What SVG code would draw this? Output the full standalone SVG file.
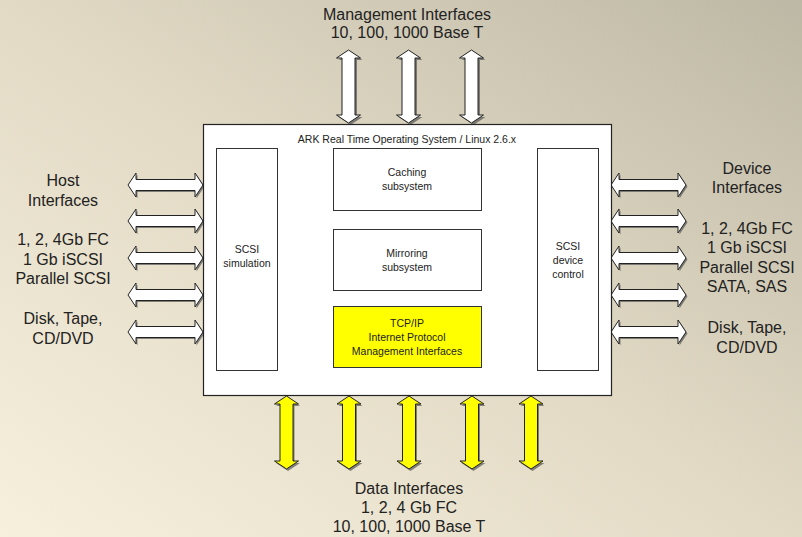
<svg xmlns="http://www.w3.org/2000/svg" xmlns:xlink="http://www.w3.org/1999/xlink" width="802" height="537" viewBox="0 0 802 537">
<defs>
<linearGradient id="bg" x1="0" y1="1" x2="1" y2="0">
<stop offset="0" stop-color="#f6f0dd"/>
<stop offset="0.5" stop-color="#e2dac5"/>
<stop offset="1" stop-color="#bdb8a5"/>
</linearGradient>
<path id="harrow" d="M0,0 L8,-12 L8,-5.5 L67,-5.5 L67,-12 L75,0 L67,12 L67,5.5 L8,5.5 L8,12 Z"/>
<path id="varrow" d="M0,0 L12,8 L6.5,8 L6.5,65 L12,65 L0,73 L-12,65 L-6.5,65 L-6.5,8 L-12,8 Z"/>
</defs>
<style>
.t{font-family:"Liberation Sans",Arial,sans-serif;fill:#222;text-anchor:middle}
.big{font-size:16px}
.sm{font-size:10.5px}
.box{fill:#fff;stroke:#333;stroke-width:1}
.shadow{fill:#555;opacity:0.7}
.wa{fill:#fff;stroke:#222;stroke-width:1}
.ya{fill:#ffff00;stroke:#222;stroke-width:1}
</style>
<rect width="802" height="537" fill="url(#bg)"/>

<g id="mgmt-label">
<text class="t big" x="407" y="20">Management Interfaces</text>
<text class="t big" x="407" y="38">10, 100, 1000 Base T</text>
</g>
<g id="host-label">
<text class="t big" x="63" y="186">Host</text>
<text class="t big" x="63" y="206">Interfaces</text>
<text class="t big" x="63" y="245">1, 2, 4Gb FC</text>
<text class="t big" x="63" y="265">1 Gb iSCSI</text>
<text class="t big" x="63" y="284">Parallel SCSI</text>
<text class="t big" x="63" y="324">Disk, Tape,</text>
<text class="t big" x="63" y="344">CD/DVD</text>
</g>
<g id="device-label">
<text class="t big" x="747" y="174">Device</text>
<text class="t big" x="747" y="193">Interfaces</text>
<text class="t big" x="747" y="234">1, 2, 4Gb FC</text>
<text class="t big" x="747" y="253">1 Gb iSCSI</text>
<text class="t big" x="747" y="273">Parallel SCSI</text>
<text class="t big" x="747" y="292">SATA, SAS</text>
<text class="t big" x="747" y="333">Disk, Tape,</text>
<text class="t big" x="747" y="353">CD/DVD</text>
</g>
<g id="data-label">
<text class="t big" x="409" y="494">Data Interfaces</text>
<text class="t big" x="409" y="513">1, 2, 4 Gb FC</text>
<text class="t big" x="409" y="532">10, 100, 1000 Base T</text>
</g>

<g id="connectors">
<g id="top-arrows">
<use href="#varrow" class="shadow" transform="translate(350.5,52)"/>
<use href="#varrow" class="wa" transform="translate(348.5,50)"/>
<use href="#varrow" class="shadow" transform="translate(410.5,52)"/>
<use href="#varrow" class="wa" transform="translate(408.5,50)"/>
<use href="#varrow" class="shadow" transform="translate(473.5,52)"/>
<use href="#varrow" class="wa" transform="translate(471.5,50)"/>
</g>
<g id="left-arrows">
<use href="#harrow" class="shadow" transform="translate(129.5,186.5)"/>
<use href="#harrow" class="wa" transform="translate(128,185)"/>
<use href="#harrow" class="shadow" transform="translate(129.5,222.5)"/>
<use href="#harrow" class="wa" transform="translate(128,221)"/>
<use href="#harrow" class="shadow" transform="translate(129.5,259.5)"/>
<use href="#harrow" class="wa" transform="translate(128,258)"/>
<use href="#harrow" class="shadow" transform="translate(129.5,296.5)"/>
<use href="#harrow" class="wa" transform="translate(128,295)"/>
<use href="#harrow" class="shadow" transform="translate(129.5,333.5)"/>
<use href="#harrow" class="wa" transform="translate(128,332)"/>
</g>
<g id="right-arrows">
<use href="#harrow" class="shadow" transform="translate(612.5,186.5)"/>
<use href="#harrow" class="wa" transform="translate(611,185)"/>
<use href="#harrow" class="shadow" transform="translate(612.5,222.5)"/>
<use href="#harrow" class="wa" transform="translate(611,221)"/>
<use href="#harrow" class="shadow" transform="translate(612.5,259.5)"/>
<use href="#harrow" class="wa" transform="translate(611,258)"/>
<use href="#harrow" class="shadow" transform="translate(612.5,296.5)"/>
<use href="#harrow" class="wa" transform="translate(611,295)"/>
<use href="#harrow" class="shadow" transform="translate(612.5,333.5)"/>
<use href="#harrow" class="wa" transform="translate(611,332)"/>
</g>
<g id="bottom-arrows">
<use href="#varrow" class="shadow" transform="translate(288,398)"/>
<use href="#varrow" class="ya" transform="translate(286.5,396)"/>
<use href="#varrow" class="shadow" transform="translate(350.5,398)"/>
<use href="#varrow" class="ya" transform="translate(349,396)"/>
<use href="#varrow" class="shadow" transform="translate(410.5,398)"/>
<use href="#varrow" class="ya" transform="translate(409,396)"/>
<use href="#varrow" class="shadow" transform="translate(473.5,398)"/>
<use href="#varrow" class="ya" transform="translate(472,396)"/>
<use href="#varrow" class="shadow" transform="translate(532.5,398)"/>
<use href="#varrow" class="ya" transform="translate(531,396)"/>
</g>
</g>

<g id="os">
<rect x="203.5" y="124.5" width="408" height="271" fill="#fff" stroke="#222" stroke-width="1.2"/>
<text class="t sm" x="407" y="143">ARK Real Time Operating System / Linux 2.6.x</text>
</g>
<g id="scsi-simulation">
<rect class="box" x="216.5" y="148.5" width="61" height="222"/>
<text class="t sm" x="247" y="253">SCSI</text>
<text class="t sm" x="247" y="267">simulation</text>
</g>
<g id="caching">
<rect class="box" x="333.5" y="148.5" width="148" height="62"/>
<text class="t sm" x="407" y="176">Caching</text>
<text class="t sm" x="407" y="190">subsystem</text>
</g>
<g id="mirroring">
<rect class="box" x="333.5" y="229.5" width="148" height="61"/>
<text class="t sm" x="407" y="257">Mirroring</text>
<text class="t sm" x="407" y="271">subsystem</text>
</g>
<g id="tcpip">
<rect x="333.5" y="306.5" width="148" height="61" fill="#ffff00" stroke="#333" stroke-width="1"/>
<text class="t sm" x="407" y="327">TCP/IP</text>
<text class="t sm" x="407" y="341">Internet Protocol</text>
<text class="t sm" x="407" y="355">Management Interfaces</text>
</g>
<g id="scsi-device-control">
<rect class="box" x="537.5" y="148.5" width="61" height="222"/>
<text class="t sm" x="568" y="250">SCSI</text>
<text class="t sm" x="568" y="264">device</text>
<text class="t sm" x="568" y="278">control</text>
</g>
</svg>
